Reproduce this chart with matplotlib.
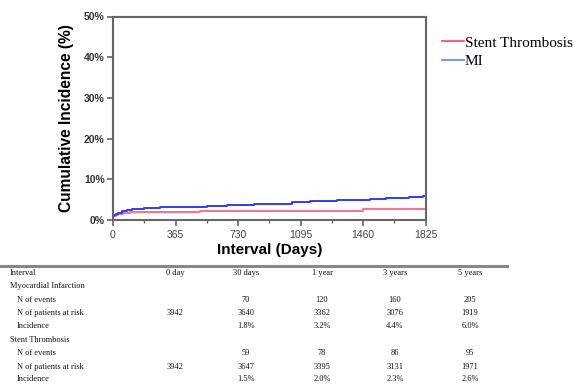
import matplotlib
matplotlib.use("Agg")
import matplotlib.pyplot as plt
from matplotlib.lines import Line2D
from matplotlib.ticker import MultipleLocator, FuncFormatter

# ---- data ----
mi_days = [0, 5, 15, 30, 50, 80, 110, 180, 275, 365, 450, 550, 665, 820, 1045, 1150, 1310, 1500, 1595, 1730, 1810, 1825]
mi_inc = [1.0, 1.3, 1.5, 1.8, 2.1, 2.4, 2.7, 2.9, 3.1, 3.2, 3.3, 3.5, 3.7, 4.0, 4.3, 4.6, 4.9, 5.1, 5.4, 5.7, 6.0, 6.1]
st_days = [0, 5, 15, 30, 60, 100, 365, 510, 1460, 1825]
st_inc = [0.9, 1.1, 1.3, 1.5, 1.8, 2.0, 2.0, 2.3, 2.6, 2.6]

x_ticks = [0, 365, 730, 1095, 1460, 1825]
y_ticks = [0, 10, 20, 30, 40, 50]

table_cols = ["Interval", "0 day", "30 days", "1 year", "3 years", "5 years"]
table_rows = [
    ("Myocardial Infarction", None),
    ("N of events", ["", "70", "120", "160", "205"]),
    ("N of patients at risk", ["3942", "3640", "3362", "3076", "1919"]),
    ("Incidence", ["", "1.8%", "3.2%", "4.4%", "6.0%"]),
    ("Stent Thrombosis", None),
    ("N of events", ["", "59", "78", "86", "95"]),
    ("N of patients at risk", ["3942", "3647", "3395", "3131", "1971"]),
    ("Incidence", ["", "1.5%", "2.0%", "2.3%", "2.6%"]),
]

W, H = 574, 384
fig = plt.figure(figsize=(W / 100, H / 100), dpi=100)
ax = fig.add_axes([113 / W, 1 - 220 / H, (425.7 - 113) / W, (220 - 16.5) / H])

ax.step(st_days, st_inc, where="post", color="#ff6f8a", lw=1.4, label="Stent Thrombosis")
ax.step(mi_days, mi_inc, where="post", color="#2f3cf5", lw=1.4, label="MI")

ax.set_xlim(0, 1825)
ax.set_ylim(0, 50)
ax.set_xticks(x_ticks)
ax.xaxis.set_minor_locator(MultipleLocator(182.5))
ax.set_yticks(y_ticks)
ax.yaxis.set_major_formatter(FuncFormatter(lambda v, p: f"{int(v)}%"))

for s in ax.spines.values():
    s.set_color("#666666")
    s.set_linewidth(1.5)
ax.tick_params(axis="both", which="major", direction="out", length=4, width=1.2, color="#666666")
ax.tick_params(axis="y", which="major", pad=2)
ax.tick_params(axis="x", which="minor", direction="out", length=2.5, width=1.0, color="#666666")
for lab in ax.get_xticklabels():
    lab.set_fontsize(7.5)
    lab.set_color("#444444")
    lab.set_family("Liberation Sans")
for lab in ax.get_yticklabels():
    lab.set_fontsize(7.5)
    lab.set_fontweight("bold")
    lab.set_color("#333333")
    lab.set_family("Liberation Sans")

ax.set_xlabel("Interval (Days)", fontsize=11, fontweight="bold", family="Liberation Sans", labelpad=2)
ax.set_ylabel("Cumulative Incidence (%)", fontsize=11.2, fontweight="bold", family="Liberation Sans", labelpad=7.5)

leg_handles = [Line2D([], [], color="#ff4f6f", lw=1.3), Line2D([], [], color="#6f8ff0", lw=1.3)]
fig.legend(leg_handles, ["Stent Thrombosis", "MI"], loc="upper left",
           bbox_to_anchor=(436 / W, 1 - 30 / H), frameon=False,
           prop={"family": "Liberation Serif", "size": 11},
           handlelength=1.4, handletextpad=0.1, labelspacing=0.3, borderaxespad=0)

# ---- table ----
fig.add_artist(Line2D([0, 507 / W], [1 - 266 / H, 1 - 266 / H], color="#888888", lw=2.2))
col_x = [10, 175, 246, 322, 395, 470]
tprops = dict(family="Liberation Serif", fontsize=6, color="#111111")
y0 = 273
fig.text(col_x[0] / W, 1 - y0 / H, table_cols[0], ha="left", va="center", **tprops)
for cx, c in zip(col_x[1:], table_cols[1:]):
    fig.text(cx / W, 1 - y0 / H, c, ha="center", va="center", **tprops)
row_y = [286, 300, 313, 326, 340, 353, 367, 379]
for ry, (label, vals) in zip(row_y, table_rows):
    if vals is None:
        fig.text(10 / W, 1 - ry / H, label, ha="left", va="center", **tprops)
    else:
        fig.text(17 / W, 1 - ry / H, label, ha="left", va="center", **tprops)
        for cx, v in zip(col_x[1:], vals):
            fig.text(cx / W, 1 - ry / H, v, ha="center", va="center", **tprops)

fig.savefig("out.png", dpi=100)
